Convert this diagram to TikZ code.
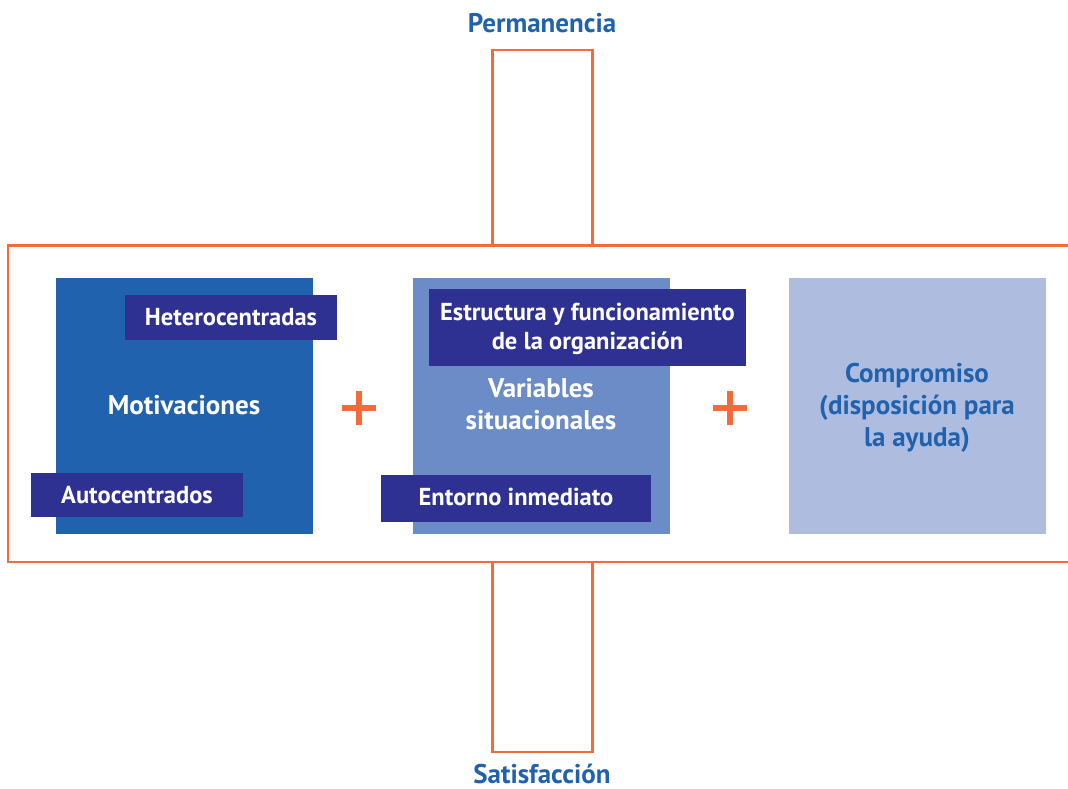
\documentclass[tikz,border=0pt]{standalone}
\usepackage{fontspec}
\setmainfont{PT Sans}
\definecolor{orng}{HTML}{F26B38}
\definecolor{blueA}{HTML}{2062AE}
\definecolor{blueB}{HTML}{6B8CC7}
\definecolor{blueC}{HTML}{AEBCE0}
\definecolor{navy}{HTML}{2E3192}
\begin{document}
\begin{tikzpicture}[x=1pt,y=-1pt,
  frame/.style={draw=orng,line width=2.6pt},
  bigbox/.style={anchor=north west,minimum width=257pt,minimum height=256pt,inner sep=0pt},
  tagbox/.style={fill=navy,anchor=north west,inner sep=0pt},
  tagtxt/.style={text=white,font=\fontsize{24.5}{29}\selectfont\bfseries,align=center,anchor=base,inner sep=0pt},
  maintxt/.style={text=white,font=\fontsize{27}{31.5}\selectfont\bfseries,align=center,anchor=base,inner sep=0pt},
  title/.style={text=blueA,font=\fontsize{27}{32.2}\selectfont\bfseries,align=center,anchor=base,inner sep=0pt},
  plusmark/.style={draw=orng,line width=5.5pt}]
\useasboundingbox (0,0) rectangle (1068,789);
% frames
\draw[frame] (492.7,50) rectangle (592.7,245.5);
\draw[frame] (492.7,562) rectangle (592.7,752);
\draw[frame] (1068,245.5) -- (8,245.5) -- (8,562) -- (1068,562);
% titles
\node[title] (perm) at (542,33) {Permanencia};
\node[title] (sat) at (542,783) {Satisfacción};
% big boxes
\node[bigbox,fill=blueA] (b1) at (56,278) {};
\node[bigbox,fill=blueB] (b2) at (413,278) {};
\node[bigbox,fill=blueC] (b3) at (789,278) {};
% box texts
\node[maintxt] (mot) at (184,414) {Motivaciones};
\node[maintxt] (var) at (541,429) {Variables\\situacionales};
\node[title] (comp) at (917,446.7) {Compromiso\\(disposición para\\la ayuda)};
% tags
\node[tagbox,minimum width=212pt,minimum height=45pt] (hetbox) at (125,295) {};
\node[tagtxt] (het) at (231,325) {Heterocentradas};
\node[tagbox,minimum width=212pt,minimum height=44pt] (autobox) at (31,473) {};
\node[tagtxt] (auto) at (137,503.3) {Autocentrados};
\node[tagbox,minimum width=317pt,minimum height=77pt] (estbox) at (429,289) {};
\node[tagtxt] (est) at (587.5,349) {Estructura y funcionamiento\\de la organización};
\node[tagbox,minimum width=270pt,minimum height=47pt] (entbox) at (381,475) {};
\node[tagtxt] (ent) at (516,505) {Entorno inmediato};
% plus signs
\node[minimum size=33pt,inner sep=0pt] (p1) at (359,408) {};
\node[minimum size=33pt,inner sep=0pt] (p2) at (730,408) {};
\draw[plusmark] (p1.west) -- (p1.east) (p1.north) -- (p1.south);
\draw[plusmark] (p2.west) -- (p2.east) (p2.north) -- (p2.south);
\end{tikzpicture}
\end{document}
